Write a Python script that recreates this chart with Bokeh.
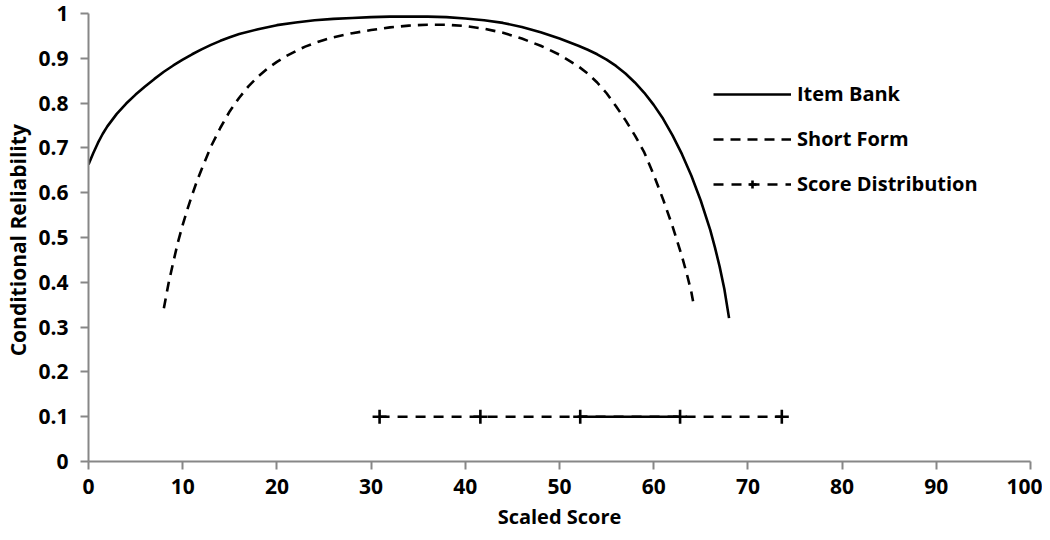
from bokeh.plotting import figure
from bokeh.models import (FixedTicker, CustomJSTickFormatter, Legend, LegendItem, Range1d)
from bokeh.embed import file_html
from bokeh.resources import INLINE

# ---- data ----
item_bank_x = [0, 0.5, 1, 1.5, 2, 3, 4, 5, 6, 7, 8, 9, 10, 11, 12, 13, 14, 15, 16, 18, 20,
               22, 24, 26, 28, 30, 32, 34, 36, 38, 40, 42, 44, 46, 48, 50, 52, 53, 54, 55,
               56, 57, 58, 59, 60, 61, 62, 63, 64, 65, 66, 66.5, 67, 67.5, 68]
item_bank_y = [0.663, 0.688, 0.711, 0.731, 0.748, 0.776, 0.799, 0.819, 0.837, 0.854, 0.870,
               0.884, 0.897, 0.909, 0.920, 0.930, 0.939, 0.947, 0.954, 0.965, 0.974, 0.980,
               0.985, 0.988, 0.990, 0.992, 0.993, 0.993, 0.993, 0.992, 0.989, 0.985, 0.979,
               0.970, 0.958, 0.944, 0.928, 0.919, 0.909, 0.897, 0.883, 0.866, 0.846, 0.823,
               0.796, 0.765, 0.728, 0.686, 0.638, 0.582, 0.517, 0.478, 0.435, 0.385, 0.320]

short_form_x = [8, 8.5, 9, 9.5, 10, 10.5, 11, 11.5, 12, 13, 14, 15, 16, 17, 18, 19, 20, 21,
                22, 23, 24, 25, 26, 28, 30, 32, 34, 36, 38, 40, 42, 44, 46, 48, 50, 52, 53,
                54, 55, 56, 57, 58, 59, 60, 61, 62, 63, 63.5, 64, 64.2]
short_form_y = [0.342, 0.398, 0.445, 0.490, 0.528, 0.563, 0.595, 0.625, 0.652, 0.703, 0.745,
                0.782, 0.812, 0.838, 0.859, 0.877, 0.892, 0.905, 0.916, 0.926, 0.934, 0.941,
                0.947, 0.956, 0.963, 0.969, 0.973, 0.975, 0.975, 0.972, 0.966, 0.957, 0.944,
                0.928, 0.908, 0.882, 0.866, 0.846, 0.822, 0.793, 0.762, 0.728, 0.690, 0.640,
                0.585, 0.525, 0.458, 0.420, 0.378, 0.355]

score_x = [30.9, 41.6, 52.2, 62.8, 73.6]
score_y = [0.1, 0.1, 0.1, 0.1, 0.1]

x_ticks = [0, 10, 20, 30, 40, 50, 60, 70, 80, 90, 100]
y_ticks = [0, 0.1, 0.2, 0.3, 0.4, 0.5, 0.6, 0.7, 0.8, 0.9, 1.0]

series_names = ["Item Bank", "Short Form", "Score Distribution"]

FONT = "Open Sans"
AXIS_GRAY = "#878787"

p = figure(width=1042, height=532, output_backend="svg", toolbar_location=None,
           x_range=Range1d(0, 100), y_range=Range1d(0, 1),
           min_border_left=88, min_border_right=12, min_border_top=13, min_border_bottom=71)
p.outline_line_color = None
p.xgrid.visible = False
p.ygrid.visible = False
p.background_fill_color = "white"

r_item = p.line(item_bank_x, item_bank_y, line_color="black", line_width=2.6)
r_short = p.line(short_form_x, short_form_y, line_color="black", line_width=2.6,
                 line_dash="10 7")
r_score_dash = p.line(score_x, score_y, line_color="black", line_width=2.4, line_dash="10 8")
r_score_solid = p.line(score_x[2:4], score_y[2:4], line_color="black", line_width=2.4)
r_score_pts = p.scatter(score_x, score_y, marker="cross", size=14, line_color="black",
                        line_width=2.6)

for ax in (p.xaxis[0], p.yaxis[0]):
    ax.axis_line_color = AXIS_GRAY
    ax.axis_line_width = 2
    ax.major_tick_line_color = AXIS_GRAY
    ax.major_tick_line_width = 2
    ax.major_tick_out = 8
    ax.major_tick_in = 0
    ax.minor_tick_line_color = None
    ax.major_label_text_font = FONT
    ax.major_label_text_font_style = "bold"
    ax.major_label_text_font_size = "21px"
    ax.major_label_text_color = "black"
    ax.axis_label_text_font = FONT
    ax.axis_label_text_font_style = "bold"
    ax.axis_label_text_font_size = "20px"
    ax.axis_label_text_color = "black"

p.yaxis.axis_label_text_font_size = "21px"
p.xaxis.ticker = FixedTicker(ticks=x_ticks)
p.yaxis.ticker = FixedTicker(ticks=y_ticks)
p.yaxis.formatter = CustomJSTickFormatter(code="return String(Number(tick.toFixed(1)));")
p.xaxis.formatter = CustomJSTickFormatter(code="return String(Math.round(tick));")
p.xaxis.axis_label = "Scaled Score"
p.yaxis.axis_label = "Conditional  Reliability"
p.xaxis.major_label_standoff = 9
p.xaxis.axis_label_standoff = 6
p.yaxis.major_label_standoff = 12
p.yaxis.axis_label_standoff = 3

legend = Legend(items=[
    LegendItem(label=series_names[0], renderers=[r_item]),
    LegendItem(label=series_names[1], renderers=[r_short]),
    LegendItem(label=series_names[2], renderers=[r_score_dash, r_score_pts]),
], location=(625, 264))
legend.glyph_width = 78
legend.glyph_height = 20
legend.spacing = 18
legend.padding = 0
legend.margin = 0
legend.label_standoff = 6
legend.border_line_color = None
legend.background_fill_alpha = 0
legend.label_text_font = FONT
legend.label_text_font_style = "bold"
legend.label_text_font_size = "20px"
legend.label_text_color = "black"
p.add_layout(legend, "center")

open("out.html", "w").write(file_html(p, INLINE))
